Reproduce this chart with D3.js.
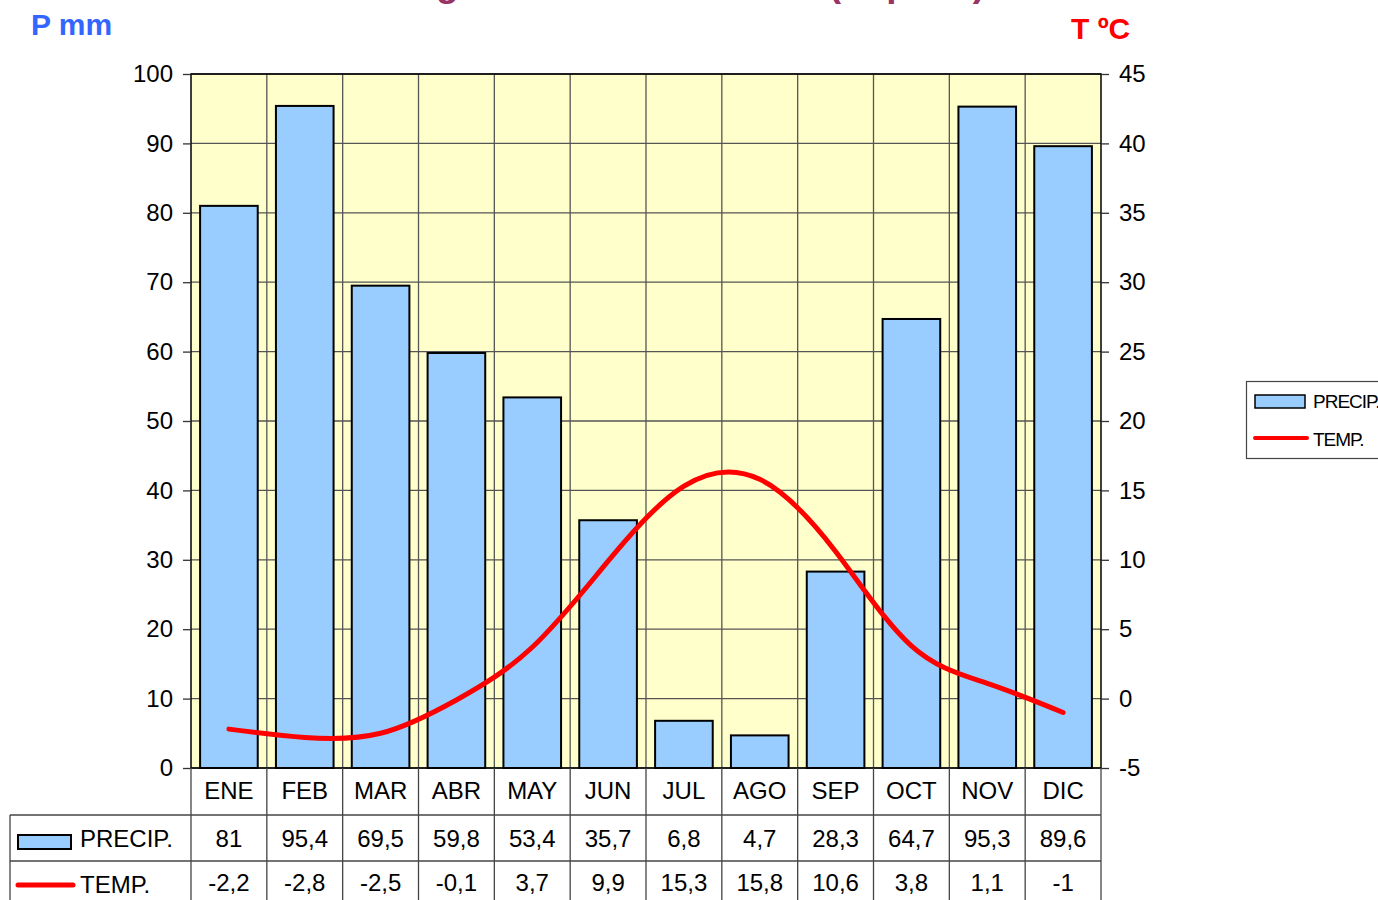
<!DOCTYPE html>
<html><head><meta charset="utf-8">
<script src="https://cdn.jsdelivr.net/npm/d3@7"></script>
<style>
html,body{margin:0;padding:0;background:#fff;}
svg{display:block;font-family:"Liberation Sans",Arial,sans-serif;}
</style></head>
<body>
<svg id="c" width="1378" height="900"></svg>
<script>
const months = ["ENE","FEB","MAR","ABR","MAY","JUN","JUL","AGO","SEP","OCT","NOV","DIC"];
const precip = [81,95.4,69.5,59.8,53.4,35.7,6.8,4.7,28.3,64.7,95.3,89.6];
const temp = [-2.2,-2.8,-2.5,-0.1,3.7,9.9,15.3,15.8,10.6,3.8,1.1,-1];
const precipTicks = [0,10,20,30,40,50,60,70,80,90,100];
const tempTicks = [-5,0,5,10,15,20,25,30,35,40,45];
const seriesNames = ["PRECIP.","TEMP."];
const titleText = "Climograma de Castelserás (España)";

const svg = d3.select("#c");
const L = 191, R = 1101, T = 74, B = 768;
const fmt = v => String(v).replace(".", ",");

const x = d3.scaleBand().domain(months).range([L, R]);
const yP = d3.scaleLinear().domain([0,100]).range([B, T]);
const yT = d3.scaleLinear().domain([-5,45]).range([B, T]);

// Title (cut off at top)
svg.append("text").attr("x", 985).attr("y", -4).attr("text-anchor","end")
  .attr("font-size", 37).attr("font-weight","bold").attr("fill","#993366").text(titleText);

// axis titles
svg.append("text").attr("x", 31).attr("y", 35).attr("font-size", 30).attr("font-weight","bold")
  .attr("fill","#3366ff").text("P mm");
svg.append("text").attr("x", 1071).attr("y", 39).attr("font-size", 30).attr("font-weight","bold")
  .attr("fill","#ff0000").text("T ºC");

// plot background
svg.append("rect").attr("x", L).attr("y", T).attr("width", R-L).attr("height", B-T).attr("fill","#ffffcc");

// horizontal gridlines
svg.append("g").selectAll("line").data(precipTicks).join("line")
  .attr("x1", L).attr("x2", R).attr("y1", d=>yP(d)).attr("y2", d=>yP(d))
  .attr("stroke","#555").attr("stroke-width",1.3);
// vertical gridlines (category boundaries)
svg.append("g").selectAll("line").data(months.slice(1)).join("line")
  .attr("x1", d=>x(d)).attr("x2", d=>x(d)).attr("y1", T).attr("y2", B)
  .attr("stroke","#555").attr("stroke-width",1.3);

// bars
const bw = x.bandwidth()*0.76;
svg.append("g").selectAll("rect").data(precip).join("rect")
  .attr("x", (d,i)=>x(months[i]) + (x.bandwidth()-bw)/2)
  .attr("y", d=>yP(d)).attr("width", bw).attr("height", d=>B - yP(d))
  .attr("fill","#99ccff").attr("stroke","#000").attr("stroke-width",2);

// temperature line
const line = d3.line().x((d,i)=>x(months[i]) + x.bandwidth()/2).y(d=>yT(d)).curve(d3.curveNatural);
svg.append("path").datum(temp).attr("d", line).attr("fill","none")
  .attr("stroke","#ff0000").attr("stroke-width",5).attr("stroke-linecap","round").attr("stroke-linejoin","round");

// plot border
svg.append("rect").attr("x", L).attr("y", T).attr("width", R-L).attr("height", B-T)
  .attr("fill","none").attr("stroke","#000").attr("stroke-width",1.5);

// left axis
const la = svg.append("g").attr("transform", `translate(${L},0)`)
  .call(d3.axisLeft(yP).tickValues(precipTicks).tickSize(8).tickPadding(10).tickFormat(d=>d));
la.select(".domain").remove();
la.selectAll("line").attr("stroke","#333").attr("stroke-width",1.3);
la.selectAll("text").attr("font-size",24).attr("fill","#000").attr("font-family","Liberation Sans, Arial, sans-serif");

// right axis
const ra = svg.append("g").attr("transform", `translate(${R},0)`)
  .call(d3.axisRight(yT).tickValues(tempTicks).tickSize(8).tickPadding(10).tickFormat(d=>d));
ra.select(".domain").remove();
ra.selectAll("line").attr("stroke","#333").attr("stroke-width",1.3);
ra.selectAll("text").attr("font-size",24).attr("fill","#000").attr("font-family","Liberation Sans, Arial, sans-serif");

// data table
const tb = svg.append("g");
const lc = "#444";
const rowM = 791, rowP = 839, rowT = 883;
const cols = months.concat(["__end"]);
// vertical lines
tb.selectAll("line.v").data(months.map(m=>x(m)).concat([R])).join("line")
  .attr("x1", d=>d).attr("x2", d=>d).attr("y1", B).attr("y2", 900)
  .attr("stroke", lc).attr("stroke-width",1.3);
// horizontal lines
[815, 861].forEach(yy => tb.append("line").attr("x1",10).attr("x2",R).attr("y1",yy).attr("y2",yy)
  .attr("stroke", lc).attr("stroke-width",1.3));
tb.append("line").attr("x1",10).attr("x2",10).attr("y1",815).attr("y2",900).attr("stroke",lc).attr("stroke-width",1.3);

tb.selectAll("text.m").data(months).join("text")
  .attr("x", d=>x(d)+x.bandwidth()/2).attr("y", rowM).attr("dy","0.35em").attr("text-anchor","middle")
  .attr("font-size",24).text(d=>d);
tb.selectAll("text.p").data(precip).join("text")
  .attr("x", (d,i)=>x(months[i])+x.bandwidth()/2).attr("y", rowP).attr("dy","0.35em").attr("text-anchor","middle")
  .attr("font-size",24).text(d=>fmt(d));
tb.selectAll("text.t").data(temp).join("text")
  .attr("x", (d,i)=>x(months[i])+x.bandwidth()/2).attr("y", rowT).attr("dy","0.35em").attr("text-anchor","middle")
  .attr("font-size",24).text(d=>fmt(d));
// table legend keys
tb.append("rect").attr("x",18).attr("y",835).attr("width",53).attr("height",14)
  .attr("fill","#99ccff").attr("stroke","#000").attr("stroke-width",2);
tb.append("text").attr("x",80).attr("y",rowP).attr("dy","0.35em").attr("font-size",24).text(seriesNames[0]);
tb.append("line").attr("x1",18).attr("x2",73).attr("y1",885).attr("y2",885)
  .attr("stroke","#ff0000").attr("stroke-width",5).attr("stroke-linecap","round");
tb.append("text").attr("x",80).attr("y",rowT+2).attr("dy","0.35em").attr("font-size",24).text(seriesNames[1]);

// right legend
const lg = svg.append("g");
lg.append("rect").attr("x",1246.5).attr("y",381.5).attr("width",160).attr("height",77)
  .attr("fill","#fff").attr("stroke","#444").attr("stroke-width",1.2);
lg.append("rect").attr("x",1255).attr("y",395).attr("width",50).attr("height",13)
  .attr("fill","#99ccff").attr("stroke","#000").attr("stroke-width",1.5);
lg.append("text").attr("x",1313).attr("y",401).attr("dy","0.35em").attr("font-size",19)
  .attr("letter-spacing","-1px").text(seriesNames[0]);
lg.append("line").attr("x1",1255).attr("x2",1307).attr("y1",438).attr("y2",438)
  .attr("stroke","#ff0000").attr("stroke-width",4).attr("stroke-linecap","round");
lg.append("text").attr("x",1313).attr("y",439).attr("dy","0.35em").attr("font-size",19)
  .attr("letter-spacing","-1px").text(seriesNames[1]);
</script>
</body></html>
